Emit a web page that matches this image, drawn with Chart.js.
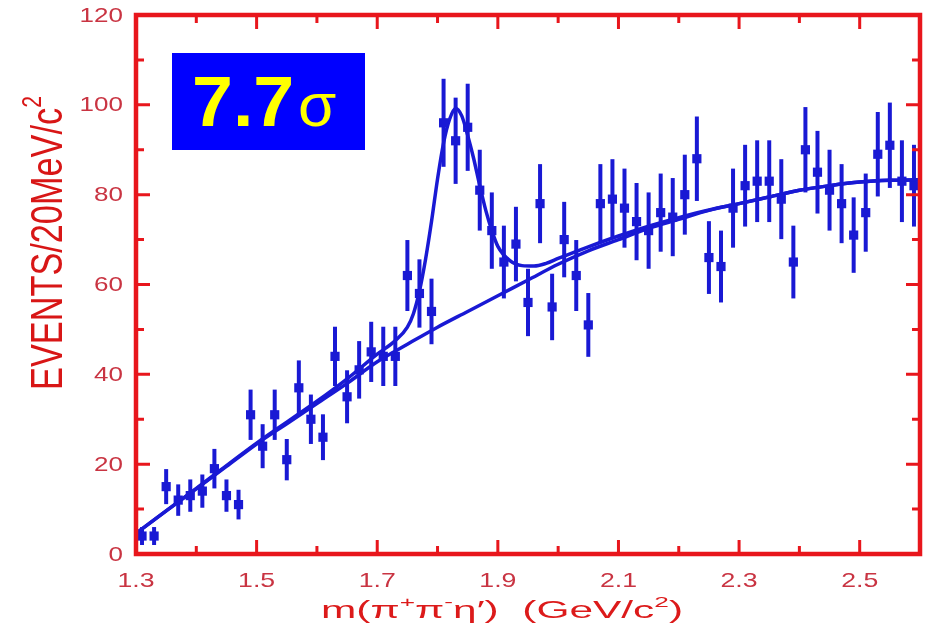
<!DOCTYPE html>
<html>
<head>
<meta charset="utf-8">
<script src="https://cdn.jsdelivr.net/npm/chart.js@4.4.1/dist/chart.umd.min.js"></script>
<style>
  html, body { margin: 0; padding: 0; background: #fff; }
  #wrap { width: 926px; height: 631px; }
</style>
</head>
<body>
<div id="wrap"><canvas id="c" width="926" height="631"></canvas></div>
<script>
// ---- data: pi+ pi- eta' invariant mass, 20 MeV bins ----
const massBins = [
  1.31, 1.33, 1.35, 1.37, 1.39, 1.41, 1.43, 1.45, 1.47, 1.49,
  1.51, 1.53, 1.55, 1.57, 1.59, 1.61, 1.63, 1.65, 1.67, 1.69,
  1.71, 1.73, 1.75, 1.77, 1.79, 1.81, 1.83, 1.85, 1.87, 1.89,
  1.91, 1.93, 1.95, 1.97, 1.99, 2.01, 2.03, 2.05, 2.07, 2.09,
  2.11, 2.13, 2.15, 2.17, 2.19, 2.21, 2.23, 2.25, 2.27, 2.29,
  2.31, 2.33, 2.35, 2.37, 2.39, 2.41, 2.43, 2.45, 2.47, 2.49,
  2.51, 2.53, 2.55, 2.57, 2.59,
];
const eventCounts = [
  4, 4, 15, 12, 13, 14, 19, 13, 11, 31,
  24, 31, 21, 37, 30, 26, 44, 35, 41, 45,
  44, 44, 62, 58, 54, 96, 92, 95, 81, 72,
  65, 69, 56, 78, 55, 70, 62, 51, 78, 79,
  77, 74, 72, 76, 75, 80, 88, 66, 64, 77,
  82, 83, 83, 79, 65, 90, 85, 81, 78, 71,
  76, 89, 91, 83, 82,
];
const countErrors = [
  2.0, 2.0, 3.9, 3.5, 3.6, 3.7, 4.4, 3.6, 3.3, 5.6,
  4.9, 5.6, 4.6, 6.1, 5.5, 5.1, 6.6, 5.9, 6.4, 6.7,
  6.6, 6.6, 7.9, 7.6, 7.3, 9.8, 9.6, 9.7, 9.0, 8.5,
  8.1, 8.3, 7.5, 8.8, 7.4, 8.4, 7.9, 7.1, 8.8, 8.9,
  8.8, 8.6, 8.5, 8.7, 8.7, 8.9, 9.4, 8.1, 8.0, 8.8,
  9.1, 9.1, 9.1, 8.9, 8.1, 9.5, 9.2, 9.0, 8.8, 8.4,
  8.7, 9.4, 9.5, 9.1, 9.1,
];

// background-only fit curve
const bgMass = [
  1.30, 1.35, 1.40, 1.45, 1.50, 1.55, 1.60, 1.65, 1.70, 1.75,
  1.80, 1.85, 1.90, 1.95, 2.00, 2.05, 2.10, 2.15, 2.20, 2.25,
  2.30, 2.35, 2.40, 2.45, 2.50, 2.55, 2.60,
];
const bgFit = [
  4.6, 9.6, 14.5, 19.5, 24.5, 29.0, 33.5, 38.0, 42.8, 46.7,
  50.5, 54.0, 57.5, 61.0, 64.5, 67.5, 70.0, 72.5, 74.5, 76.5,
  78.0, 79.5, 81.0, 82.0, 82.8, 83.2, 83.3,
];

// background + resonance fit curve
const totalMass = [
  1.30, 1.40, 1.50, 1.60, 1.65, 1.70, 1.73, 1.75, 1.76, 1.77,
  1.78, 1.79, 1.80, 1.81, 1.82, 1.83, 1.84, 1.85, 1.86, 1.87,
  1.88, 1.89, 1.90, 1.92, 1.94, 1.96, 1.98, 2.00, 2.05, 2.10,
  2.15, 2.20, 2.25, 2.30, 2.35, 2.40, 2.45, 2.50, 2.55, 2.60,
];
const totalFit = [
  4.6, 14.6, 24.7, 34.0, 39.0, 44.5, 47.5, 50.5, 53.5, 58.5,
  65.5, 74.0, 83.5, 91.5, 96.8, 99.2, 97.6, 93.2, 88.0, 82.0,
  76.5, 72.0, 68.5, 65.3, 64.2, 64.1, 64.7, 65.8, 68.4, 70.8,
  73.0, 74.9, 76.6, 78.0, 79.5, 81.0, 82.0, 82.8, 83.2, 83.3,
];

// ---- axis ticks ----
const xMajorTicks = [1.3, 1.5, 1.7, 1.9, 2.1, 2.3, 2.5];
const xMinorTicks = [1.4, 1.6, 1.8, 2.0, 2.2, 2.4, 2.6];
const xTickLabels = ['1.3', '1.5', '1.7', '1.9', '2.1', '2.3', '2.5'];
const yMajorTicks = [0, 20, 40, 60, 80, 100, 120];
const yMinorTicks = [10, 30, 50, 70, 90, 110];
const yTickLabels = ['0', '20', '40', '60', '80', '100', '120'];

const significance = '7.7';

// ---- styles ----
const BLUE = '#1919d4';
const RED = '#e8161c';
const TICK_RED = '#c93442';
const FONT = '"Liberation Sans", Arial, Helvetica, sans-serif';

// text with superscripts, squeezed / stretched to a given width
function measureRich(ctx, parts, fs) {
  let w = 0;
  parts.forEach((p) => {
    ctx.font = `${p.sup ? fs * 0.62 : fs}px ${FONT}`;
    w += ctx.measureText(p.t).width;
  });
  return w;
}
function drawRich(ctx, parts, fs, x, y, targetWidth, color) {
  const natural = measureRich(ctx, parts, fs);
  const sx = targetWidth / natural;
  ctx.save();
  ctx.translate(x - targetWidth / 2, y);
  ctx.scale(sx, 1);
  ctx.fillStyle = color;
  ctx.textBaseline = 'alphabetic';
  ctx.textAlign = 'left';
  let cx = 0;
  parts.forEach((p) => {
    const size = p.sup ? fs * 0.62 : fs;
    ctx.font = `${size}px ${FONT}`;
    ctx.fillText(p.t, cx, p.sup ? -fs * 0.48 : 0);
    cx += ctx.measureText(p.t).width;
  });
  ctx.restore();
}

function stretchedText(ctx, text, x, y, sx, align) {
  const w = ctx.measureText(text).width * sx;
  let left = x;
  if (align === 'center') left = x - w / 2;
  if (align === 'right') left = x - w;
  ctx.save();
  ctx.translate(left, y);
  ctx.scale(sx, 1);
  ctx.fillText(text, 0, 0);
  ctx.restore();
}

// error bars under the markers
const errorBars = {
  id: 'errorBars',
  beforeDatasetsDraw(chart) {
    const { ctx, scales: { x, y } } = chart;
    ctx.save();
    ctx.strokeStyle = BLUE;
    ctx.lineWidth = 4;
    massBins.forEach((m, i) => {
      const px = x.getPixelForValue(m);
      ctx.beginPath();
      ctx.moveTo(px, y.getPixelForValue(eventCounts[i] + countErrors[i]));
      ctx.lineTo(px, y.getPixelForValue(eventCounts[i] - countErrors[i]));
      ctx.stroke();
    });
    ctx.restore();
  },
};

// red frame, inward ticks, labels, titles and the significance box
const frameDecor = {
  id: 'frameDecor',
  afterDraw(chart) {
    const { ctx, chartArea: a, scales: { x, y } } = chart;
    ctx.save();

    // ticks on all four sides
    ctx.strokeStyle = RED;
    ctx.lineWidth = 3;
    const tick = (vals, len, axis) => {
      vals.forEach((v) => {
        ctx.beginPath();
        if (axis === 'x') {
          const px = x.getPixelForValue(v);
          ctx.moveTo(px, a.bottom); ctx.lineTo(px, a.bottom - len);
          ctx.moveTo(px, a.top); ctx.lineTo(px, a.top + len);
        } else {
          const py = y.getPixelForValue(v);
          ctx.moveTo(a.left, py); ctx.lineTo(a.left + len, py);
          ctx.moveTo(a.right, py); ctx.lineTo(a.right - len, py);
        }
        ctx.stroke();
      });
    };
    tick(xMajorTicks, 14, 'x');
    tick(xMinorTicks, 8, 'x');
    tick(yMajorTicks, 14, 'y');
    tick(yMinorTicks, 8, 'y');

    // frame
    ctx.lineWidth = 4.5;
    ctx.strokeRect(a.left, a.top, a.right - a.left, a.bottom - a.top);

    // tick labels
    ctx.fillStyle = TICK_RED;
    ctx.textBaseline = 'middle';
    ctx.font = `20px ${FONT}`;
    yMajorTicks.forEach((v, i) => {
      stretchedText(ctx, yTickLabels[i], a.left - 13, y.getPixelForValue(v) + 1, 1.3, 'right');
    });
    ctx.font = `21px ${FONT}`;
    xMajorTicks.forEach((v, i) => {
      stretchedText(ctx, xTickLabels[i], x.getPixelForValue(v), a.bottom + 27, 1.27, 'center');
    });

    // x title
    drawRich(ctx, [
      { t: 'm(π' }, { t: '+', sup: true }, { t: 'π' }, { t: '-', sup: true },
      { t: 'η' }, { t: '′' }, { t: ')  (GeV/c' }, { t: '2', sup: true }, { t: ')' },
    ], 23.5, 502, 618, 362, '#dc1a1a');

    // y title (rotated)
    ctx.save();
    ctx.translate(62, 243);
    ctx.rotate(-Math.PI / 2);
    drawRich(ctx, [{ t: 'EVENTS/20MeV/c' }, { t: '2', sup: true }], 44, 0, 0, 294, '#d81616');
    ctx.restore();

    // significance box
    ctx.fillStyle = '#0000ff';
    ctx.fillRect(172, 53, 193, 97);
    ctx.fillStyle = '#ffff00';
    ctx.textBaseline = 'alphabetic';
    ctx.textAlign = 'left';
    ctx.font = `bold 70px ${FONT}`;
    stretchedText(ctx, significance, 192, 126, 1.05, 'left');
    ctx.font = `62px ${FONT}`;
    ctx.fillText('σ', 298, 126);

    ctx.restore();
  },
};

new Chart(document.getElementById('c'), {
  type: 'scatter',
  data: {
    datasets: [
      {
        label: 'data',
        data: massBins.map((m, i) => ({ x: m, y: eventCounts[i] })),
        pointStyle: 'rect',
        pointRadius: 6.5,
        backgroundColor: BLUE,
        borderWidth: 0,
        showLine: false,
      },
      {
        type: 'line',
        label: 'fit',
        data: totalMass.map((m, i) => ({ x: m, y: totalFit[i] })),
        borderColor: BLUE,
        borderWidth: 3.5,
        pointRadius: 0,
        cubicInterpolationMode: 'monotone',
        fill: false,
      },
      {
        type: 'line',
        label: 'background',
        data: bgMass.map((m, i) => ({ x: m, y: bgFit[i] })),
        borderColor: BLUE,
        borderWidth: 3.5,
        pointRadius: 0,
        cubicInterpolationMode: 'monotone',
        fill: false,
      },
    ],
  },
  options: {
    responsive: false,
    animation: false,
    devicePixelRatio: 1,
    layout: { autoPadding: false, padding: { left: 0, right: 6, top: 15, bottom: 0 } },
    plugins: { legend: { display: false }, tooltip: { enabled: false } },
    scales: {
      x: {
        type: 'linear',
        min: 1.3,
        max: 2.6,
        grid: { display: false },
        border: { display: false },
        ticks: { display: false },
        afterFit: (s) => { s.height = 77; },
      },
      y: {
        min: 0,
        max: 120,
        grid: { display: false },
        border: { display: false },
        ticks: { display: false },
        afterFit: (s) => { s.width = 136; },
      },
    },
  },
  plugins: [errorBars, frameDecor],
});
</script>
</body>
</html>
